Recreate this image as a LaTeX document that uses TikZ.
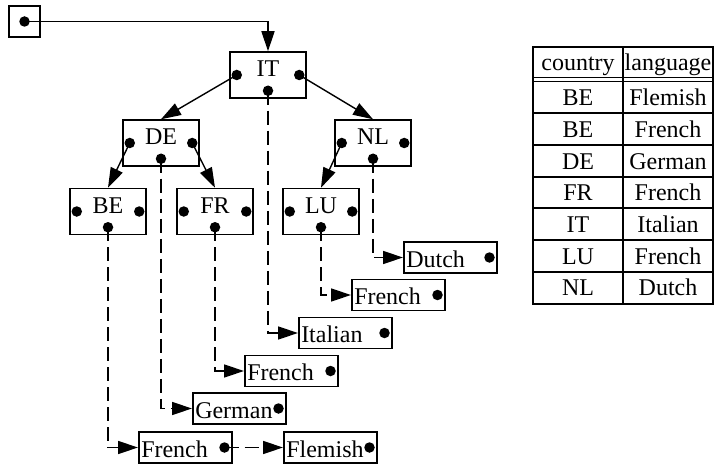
\documentclass[tikz,border=0pt]{standalone}
\usepackage{fontspec}
\setmainfont{Liberation Serif}
\usetikzlibrary{arrows.meta}

\begin{document}
\begin{tikzpicture}[x=1pt, y=-1pt,
  every node/.style={font=\fontsize{24}{28}\selectfont},
  key/.style={draw, line width=1.5pt, minimum width=76pt, inner sep=0pt, text height=25pt, text depth=21pt},
  leaf/.style={draw, line width=1.5pt, anchor=west, text width=88pt, inner xsep=2.5pt, inner ysep=0pt, text height=25pt, text depth=6pt, align=left},
  dot/.style={circle, fill, inner sep=0pt, minimum size=10.5pt},
  link/.style={line width=1.4pt, -{Triangle[length=20pt,width=13pt]}},
  chain/.style={link, dash pattern=on 14pt off 6pt},
  cell/.style={anchor=base, inner sep=0pt},
  tab/.style={line width=2pt}]
  \useasboundingbox (0,0) rectangle (715,468);

  % root pointer
  \node[draw, line width=1.5pt, minimum size=31pt, inner sep=0pt] (root) at (24.5,21.5) {};
  \node[dot] (root-d) at (root.center) {};

  % keys
  \node[key] (IT) at (268,75) {IT};
  \node[key] (DE) at (161,143) {DE};
  \node[key] (NL) at (373,143) {NL};
  \node[key] (BE) at (108,211.5) {BE};
  \node[key] (FR) at (215,211.5) {FR};
  \node[key] (LU) at (321,211.5) {LU};
  \foreach \k in {IT,DE,NL,BE,FR,LU} {
    \node[dot] (\k-l) at ([xshift=7.5pt]\k.west) {};
    \node[dot] (\k-r) at ([xshift=-7.5pt]\k.east) {};
    \node[dot] (\k-b) at ([yshift=8pt]\k.south) {};
  }

  % values
  \node[leaf] (NL-v) at (403,257.5) {Dutch};
  \node[leaf] (LU-v) at (351,295) {French};
  \node[leaf] (IT-v) at (298,333) {Italian};
  \node[leaf] (FR-v) at (244,371) {French};
  \node[leaf] (DE-v) at (192,408.5) {German};
  \node[leaf] (BE-v1) at (138,447.5) {French};
  \node[leaf] (BE-v2) at (283,447.5) {Flemish};
  \foreach \v in {NL-v,LU-v,IT-v,FR-v,DE-v,BE-v1,BE-v2}
    \node[dot] (\v-d) at ([xshift=-8pt]\v.east) {};

  % tree links
  \draw[link] (root-d.center) -| (IT.north);
  \draw[link] (IT-l.center) -- (DE.north);
  \draw[link] (IT-r.center) -- (NL.north);
  \draw[link] (DE-l.center) -- (BE.north);
  \draw[link] (DE-r.center) -- (FR.north);
  \draw[link] (NL-l.center) -- (LU.north);

  % value chains
  \foreach \k in {NL,LU,IT,FR,DE}
    \draw[chain] (\k-b.center) |- (\k-v.west);
  \draw[chain] (BE-b.center) |- (BE-v1.west);
  \draw[chain] (BE-v1-d.center) -- (BE-v2.west);

  % table
  \draw[tab] (533,47) rectangle (713,303.5);
  \draw[tab] (623,47) -- (623,303.5);
  \draw[line width=1.3pt] (533,77.5) -- (713,77.5);
  \draw[line width=1.3pt] (533,81.5) -- (713,81.5);
  \foreach \i in {1,...,6}
    \draw[tab] (533,81.5+\i*31.7) -- (713,81.5+\i*31.7);
  \node[cell] (hc) at (578,71) {country};
  \node[cell] (hl) at (668,71) {language};
  \foreach \c/\l [count=\i] in {BE/Flemish,BE/French,DE/German,FR/French,IT/Italian,LU/French,NL/Dutch} {
    \node[cell] (c\i) at (578,81.5+\i*31.7-7.5) {\c};
    \node[cell] (l\i) at (668,81.5+\i*31.7-7.5) {\l};
  }
\end{tikzpicture}
\end{document}
